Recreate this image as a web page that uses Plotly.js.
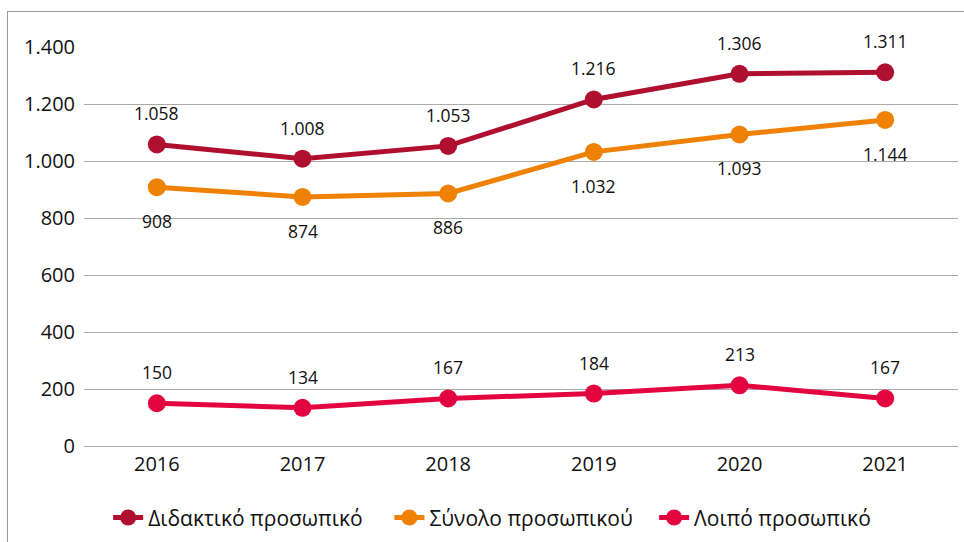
<!DOCTYPE html>
<html><head><meta charset="utf-8">
<script src="https://cdn.plot.ly/plotly-3.0.1.min.js"></script>
<style>
html,body{margin:0;padding:0;background:#fff;}
#frame{position:absolute;left:7px;top:11px;width:2000px;height:2000px;border-left:1px solid #9a9a9a;border-top:1px solid #9a9a9a;pointer-events:none;z-index:5;}
#chart{position:absolute;left:0;top:0;width:964px;height:542px;}
</style></head>
<body>
<div id="chart"></div>
<div id="frame"></div>
<script>
const years = ['2016','2017','2018','2019','2020','2021'];
const didaktiko = [1058,1008,1053,1216,1306,1311];
const synolo = [908,874,886,1032,1093,1144];
const loipo = [150,134,167,184,213,167];
const names = ['Διδακτικό προσωπικό','Σύνολο προσωπικού','Λοιπό προσωπικό'];
const colors = ['#B0102F','#EF8104','#E2053F'];

function fmt(v){ return String(v).replace(/\B(?=(\d{3})+(?!\d))/g,'.'); }

const series = [didaktiko, synolo, loipo];
const shifts = [31, -34, 31];
const pad = ['\u00a0\u00a0\u00a0\u00a0', '\u00a0\u00a0\u00a0', ''];
const traces = series.map((s,i)=>({
  x: years, y: s, name: names[i] + pad[i], type:'scatter', mode:'lines+markers',
  line:{color:colors[i], width:5}, marker:{color:colors[i], size:18},
  hoverinfo:'skip'
}));
const annotations = [];
series.forEach((s,i)=>{
  s.forEach((v,j)=>{
    annotations.push({x: j, y: v, xref:'x', yref:'y', text: fmt(v), showarrow:false,
      yshift: shifts[i], font:{family:'Open Sans, sans-serif', size:17.5, color:'#111'}});
  });
});
const layout = {
  width:964, height:542,
  margin:{l:84, r:6, t:47, b:96, autoexpand:false},
  paper_bgcolor:'#fff', plot_bgcolor:'#fff',
  separators:',.',
  font:{family:'Open Sans, sans-serif', color:'#111'},
  showlegend:true,
  legend:{orientation:'h', x:0.467, xanchor:'center', y:-0.18, yanchor:'middle',
    font:{size:21, color:'#111'}, traceorder:'normal'},
  xaxis:{type:'category', range:[-0.5,5.5], showgrid:false, zeroline:false, showline:false,
    ticks:'', ticklabelstandoff:4, tickfont:{size:20, color:'#111'}, fixedrange:true},
  yaxis:{range:[0,1400], dtick:200, tick0:0, tickformat:',d', showgrid:true, gridcolor:'#aaaaaa', gridwidth:1,
    zeroline:true, zerolinecolor:'#aaaaaa', zerolinewidth:1, showline:false, ticks:'',
    ticklabelstandoff:8, tickfont:{size:20, color:'#111'}, fixedrange:true},
  annotations: annotations
};
Plotly.newPlot('chart', traces, layout, {displayModeBar:false, staticPlot:true});
</script>
</body></html>
